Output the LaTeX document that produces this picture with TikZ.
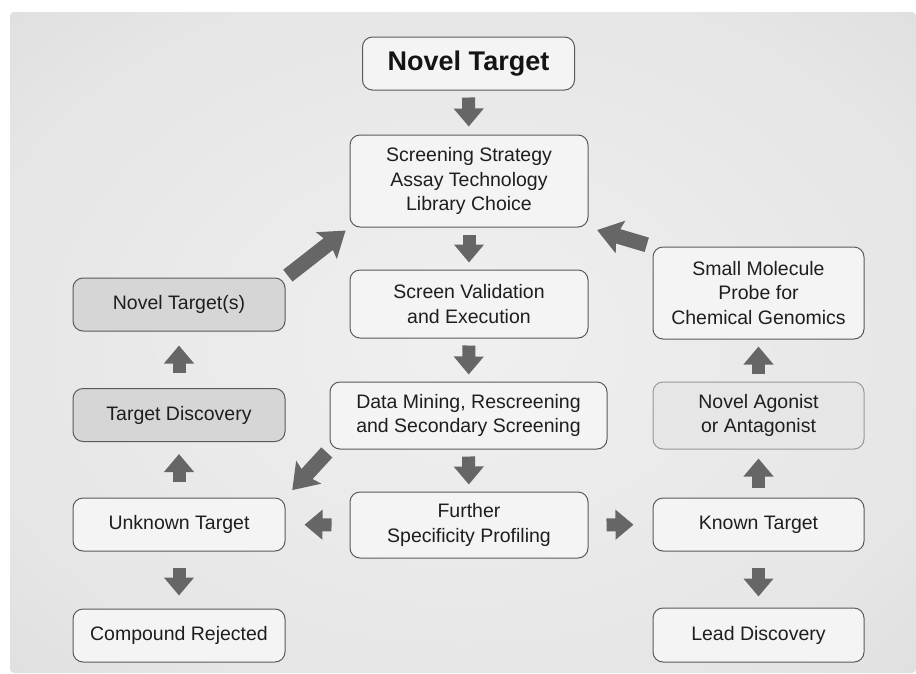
\documentclass[tikz,border=0pt]{standalone}
\usepackage{fontspec}
\setmainfont{Liberation Sans}
\usetikzlibrary{positioning}
\usetikzlibrary{arrows.meta}
\definecolor{boxline}{HTML}{5A5A5A}
\definecolor{arrowgray}{HTML}{666666}
\definecolor{lightfill}{HTML}{F4F4F4}
\definecolor{darkfill}{HTML}{D6D6D6}
\definecolor{midfill}{HTML}{E6E6E6}
\definecolor{txt}{HTML}{1E1E1E}
\pgfdeclareradialshading{panelshade}{\pgfpoint{0bp}{0bp}}{color(0bp)=(black!6); color(28bp)=(black!10); color(55bp)=(black!18); color(75bp)=(black!20)}
\tikzset{
    mynode/.style = {rectangle, rounded corners=10pt, line width=1pt, draw=boxline, align=center, fill=lightfill, text=txt, inner sep=0pt, minimum width=212pt, minimum height=53pt},
    mynoded/.style = {mynode, fill=darkfill},
    mynodea/.style = {mynode, fill=midfill, draw=black!40},
    mytitle/.style = {mynode, font=\fontsize{27pt}{30pt}\bfseries\selectfont, text=black!92},
    arrowv/.style = {line width=13pt, arrowgray, -{Triangle[width=29pt,length=18pt]}}, % straight
    arrowd/.style = {line width=15pt, arrowgray, -{Stealth[width=33pt,length=24pt,inset=4pt]}} % slanted
}

\begin{document}
\begin{tikzpicture}[x=1pt, y=-1pt, font=\fontsize{19.5pt}{24.5pt}\selectfont]
  \useasboundingbox (0,0) rectangle (916,673);
  \shade[shading=panelshade, rounded corners=4pt] (10,12) rectangle (916,673);

  % middle column
  \node[mytitle] (target) at (468.5,63.5) {Novel Target};
  \node[mynode, minimum width=238pt, minimum height=92pt] (strategy) at (469,181) {Screening Strategy\\Assay Technology\\Library Choice};
  \node[mynode, minimum width=238pt, minimum height=68pt] (validation) at (469,304) {Screen Validation\\and Execution};
  \node[mynode, minimum width=277pt, minimum height=67pt] (mining) at (468.5,415.5) {Data Mining, Rescreening\\and Secondary Screening};
  \node[mynode, minimum width=238pt, minimum height=66pt] (profiling) at (469,525) {Further\\Specificity Profiling};

  % left column
  \node[mynoded] (noveltargets) at (179,304.5) {Novel Target(s)};
  \node[mynoded] (discovery) at (179,415) {Target Discovery};
  \node[mynode] (unknown) at (179,524.5) {Unknown Target};
  \node[mynode] (rejected) at (179,635.5) {Compound Rejected};

  % right column
  \node[mynode, minimum width=211pt, minimum height=92pt] (probe) at (758.5,293) {Small Molecule\\Probe for\\Chemical Genomics};
  \node[mynodea, minimum width=211pt, minimum height=67pt] (agonist) at (758.5,415.5) {Novel Agonist\\or Antagonist};
  \node[mynode, minimum width=211pt] (known) at (758.5,524.5) {Known Target};
  \node[mynode, minimum width=211pt, minimum height=54pt] (lead) at (758.5,635) {Lead Discovery};

  \draw[arrowv, shorten <=7pt, shorten >=8pt] (target) -- (strategy);
  \draw[arrowv, shorten <=7pt, shorten >=7pt] (strategy) -- (validation);
  \draw[arrowv, shorten <=7pt, shorten >=7pt] (validation) -- (mining);
  \draw[arrowv, shorten <=7pt, shorten >=7pt] (mining) -- (profiling);
  \draw[arrowv, shorten <=18pt, shorten >=19pt] (profiling) -- (unknown);
  \draw[arrowv, shorten <=18pt, shorten >=19pt] (profiling) -- (known);

  \draw[arrowv, shorten <=16pt, shorten >=12pt] (unknown) -- (discovery);
  \draw[arrowv, shorten <=15pt, shorten >=14pt] (discovery) -- (noveltargets);
  \draw[arrowv, shorten <=16pt, shorten >=13pt] (unknown) -- (rejected);

  \draw[arrowv, shorten <=10pt, shorten >=9pt] (known) -- (agonist);
  \draw[arrowv, shorten <=8pt, shorten >=7pt] (agonist) -- (probe);
  \draw[arrowv, shorten <=16pt, shorten >=11pt] (known) -- (lead);

  \draw[arrowd, shorten <=3pt, shorten >=5pt] (noveltargets.north east) -- (strategy.south west);
  \draw[arrowd, shorten <=6pt, shorten >=9pt] (probe.north west) -- (strategy.south east);
  \draw[arrowd, shorten <=4pt, shorten >=10pt] (mining.south west) -- (unknown.north east);
\end{tikzpicture}
\end{document}
